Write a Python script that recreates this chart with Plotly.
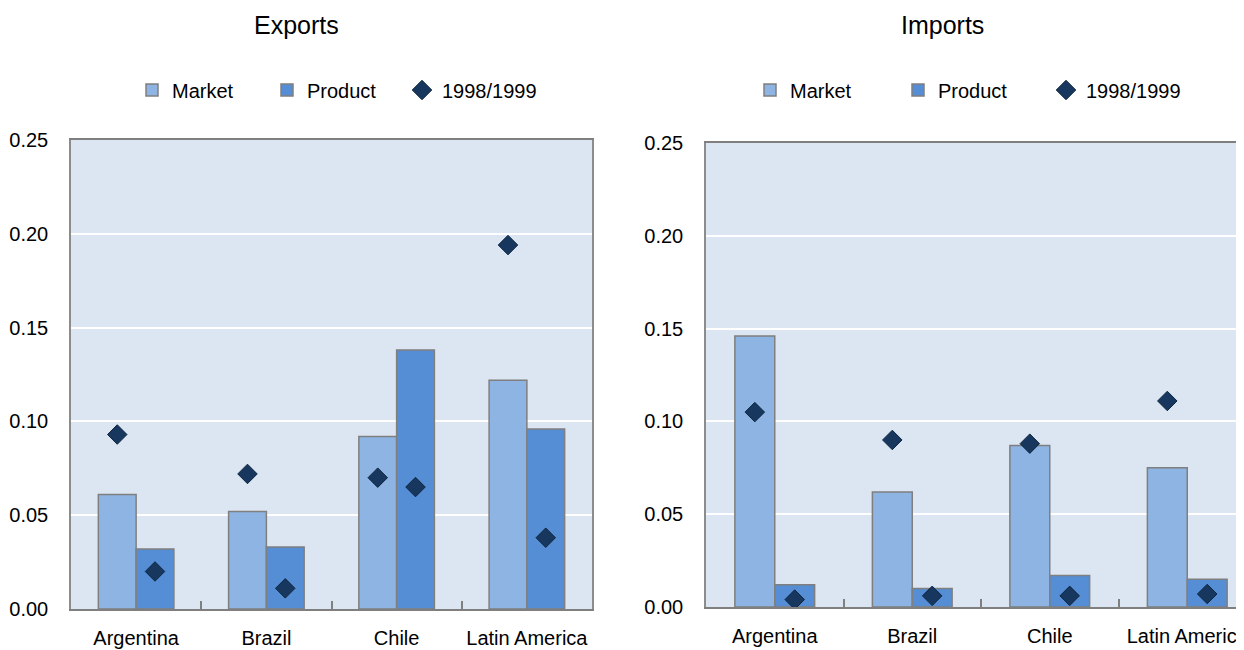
import plotly.graph_objects as go

# Categories shared by both panels
countries = ['Argentina', 'Brazil', 'Chile', 'Latin America']

# Exports panel
exp_market = [0.061, 0.052, 0.092, 0.122]
exp_product = [0.032, 0.033, 0.138, 0.096]
exp_market_9899 = [0.093, 0.072, 0.070, 0.194]
exp_product_9899 = [0.020, 0.011, 0.065, 0.038]

# Imports panel
imp_market = [0.146, 0.062, 0.087, 0.075]
imp_product = [0.012, 0.010, 0.017, 0.015]
imp_market_9899 = [0.105, 0.090, 0.088, 0.111]
imp_product_9899 = [0.004, 0.006, 0.006, 0.007]

MARKET_COLOR = '#8EB4E3'
PRODUCT_COLOR = '#558ED5'
DIAMOND_COLOR = '#17375E'
EDGE = '#7F7F7F'
BG = '#DCE6F2'
FONT = 'Liberation Sans, Arial'

# the page body has an 8px margin, so the figure is drawn a bit larger
# and everything is placed 8px up/left of where it shows in the window
W, H = 1252, 658


def px(x):
    return x / W


def py(y):
    return (H - y) / H


fig = go.Figure()


def add_panel(fig, xa, ya, legend, market, product, market_9899, product_9899):
    '''Adds the two bar series and the matching 1998/1999 diamonds.'''
    fig.add_trace(go.Bar(
        x=countries, y=market, name='Market', offsetgroup='m',
        marker=dict(color=MARKET_COLOR, line=dict(color=EDGE, width=1.5)),
        xaxis=xa, yaxis=ya, legend=legend,
    ))
    fig.add_trace(go.Bar(
        x=countries, y=product, name='Product', offsetgroup='p',
        marker=dict(color=PRODUCT_COLOR, line=dict(color=EDGE, width=1.5)),
        xaxis=xa, yaxis=ya, legend=legend,
    ))
    # diamonds sit over each bar, so one trace per bar group
    for vals, grp, show in [(market_9899, 'm', True), (product_9899, 'p', False)]:
        fig.add_trace(go.Scatter(
            x=countries, y=vals, name='1998/1999', mode='markers',
            offsetgroup=grp, showlegend=show, legendgroup='d' + legend,
            marker=dict(symbol='diamond', size=15, color=DIAMOND_COLOR,
                        line=dict(color='#0F2640', width=1)),
            xaxis=xa, yaxis=ya, legend=legend,
        ))


add_panel(fig, 'x', 'y', 'legend', exp_market, exp_product, exp_market_9899, exp_product_9899)
add_panel(fig, 'x2', 'y2', 'legend2', imp_market, imp_product, imp_market_9899, imp_product_9899)

xcommon = dict(
    type='category', showgrid=False, showline=True, linecolor=EDGE, linewidth=2,
    ticks='inside', tickson='boundaries', ticklen=8, tickcolor=EDGE, tickwidth=1.5,
    tickfont=dict(family=FONT, size=20, color='#000000'), tickangle=0,
    ticklabelstandoff=10, automargin=False, fixedrange=True, range=[-0.5, 3.5],
)
ycommon = dict(
    range=[0, 0.25], dtick=0.05, tickformat='.2f', showgrid=True,
    gridcolor='#FFFFFF', gridwidth=2, zeroline=False,
    showline=True, linecolor='#8C8C8C', linewidth=1.5, ticks='',
    tickfont=dict(family=FONT, size=20, color='#000000'),
    ticklabelstandoff=17, automargin=False, fixedrange=True,
)

fig.update_layout(
    width=W, height=H,
    margin=dict(l=0, r=0, t=0, b=0),
    paper_bgcolor='#FFFFFF', plot_bgcolor=BG,
    barmode='group', bargap=0.42, bargroupgap=0,
    scattermode='group', scattergap=0.42,
    font=dict(family=FONT, color='#000000'),
    xaxis=dict(xcommon, domain=[px(63), px(584)], anchor='y', mirror=True),
    yaxis=dict(ycommon, domain=[py(601), py(132)], anchor='x', mirror=True),
    xaxis2=dict(xcommon, domain=[px(698), px(1248)], anchor='y2', mirror=True),
    yaxis2=dict(ycommon, domain=[py(599), py(135)], anchor='x2'),
    legend=dict(orientation='h', x=px(124), xanchor='left', y=py(82), yanchor='middle',
                font=dict(family=FONT, size=20), entrywidth=90, itemwidth=30,
                bgcolor='rgba(0,0,0,0)'),
    legend2=dict(orientation='h', x=px(742), xanchor='left', y=py(82), yanchor='middle',
                 font=dict(family=FONT, size=20), entrywidth=103, itemwidth=30,
                 bgcolor='rgba(0,0,0,0)'),
    annotations=[
        dict(text='Exports', x=px(288), y=py(17), xref='paper', yref='paper',
             showarrow=False, xanchor='center', yanchor='middle',
             font=dict(family=FONT, size=25)),
        dict(text='Imports', x=px(934), y=py(17), xref='paper', yref='paper',
             showarrow=False, xanchor='center', yanchor='middle',
             font=dict(family=FONT, size=25)),
    ],
)

fig.write_html('out.html')
